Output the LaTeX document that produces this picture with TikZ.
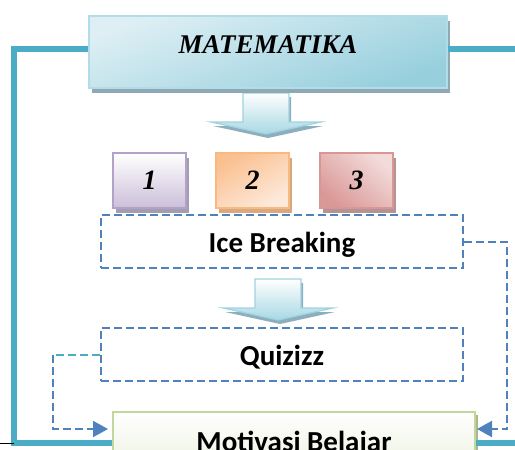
\documentclass[tikz,border=0pt]{standalone}
\usepackage{fontspec}
\setmainfont{Liberation Serif}
\newfontfamily\carlito{Carlito}
\usetikzlibrary{arrows.meta,shadows}
\definecolor{tealline}{HTML}{4BACC6}
\definecolor{dashblue}{HTML}{4F81BD}
\definecolor{matlight}{HTML}{DDEFF4}
\definecolor{matdark}{HTML}{97CFDD}
\definecolor{matborder}{HTML}{B2DCE7}
\definecolor{matshadow}{HTML}{8EA9B4}
\definecolor{purpleborder}{HTML}{B3A2C7}
\definecolor{purplefill}{HTML}{CBBFD9}
\definecolor{purpleshadow}{HTML}{A39CB2}
\definecolor{orangeborder}{HTML}{F9B97F}
\definecolor{orangefill}{HTML}{FAC090}
\definecolor{orangelight}{HTML}{FDEADB}
\definecolor{orangeshadow}{HTML}{D8A880}
\definecolor{redborder}{HTML}{D99694}
\definecolor{redfill}{HTML}{DA9896}
\definecolor{redlight}{HTML}{F2DCDB}
\definecolor{redshadow}{HTML}{B39494}
\definecolor{greenborder}{HTML}{C3D69B}
\definecolor{greenfill}{HTML}{EBF1DE}
\definecolor{greenshadow}{HTML}{A9B98E}
\definecolor{arrowfill}{HTML}{A8D8E4}
\definecolor{arrowborder}{HTML}{9FD3E0}
\definecolor{arrowshadow}{HTML}{8DAEBC}

\begin{document}
\begin{tikzpicture}[x=1pt, y=-1pt,
  flowline/.style={line width=6pt, tealline},
  dashline/.style={line width=2pt, dashblue, dash pattern=on 8pt off 4pt},
  dashtip/.style={-{Triangle[length=15pt, width=16pt]}},
  matbox/.style={draw=matborder, line width=1.2pt, top color=matlight, bottom color=matdark, shading angle=20,
    minimum width=358pt, minimum height=72pt, inner sep=0pt, text height=18pt, text depth=16pt,
    font=\fontsize{27}{30}\selectfont\bfseries\itshape,
    drop shadow={shadow xshift=3pt, shadow yshift=-5pt, fill=matshadow, opacity=1}},
  numbox/.style={line width=2pt, minimum width=73pt, minimum height=55pt, inner sep=0pt,
    font=\fontsize{28}{30}\selectfont\bfseries\itshape},
  labelbox/.style={dashline, minimum width=362pt, minimum height=53pt, inner sep=0pt,
    text height=22pt, text depth=0pt, text=black, font=\carlito\fontsize{29}{32}\selectfont\bfseries},
  motbox/.style={draw=greenborder, line width=2pt, top color=white, bottom color=greenfill,
    minimum width=362pt, minimum height=62pt, inner sep=0pt, text height=16pt, text depth=0pt,
    font=\carlito\fontsize{29}{32}\selectfont\bfseries,
    drop shadow={shadow xshift=3pt, shadow yshift=-3pt, fill=greenshadow, opacity=1}},
  blockarrow/.style={draw=arrowborder, line width=1.2pt, top color=white, bottom color=arrowfill}]
\useasboundingbox (0,0) rectangle (515,450);
\clip (0,0) rectangle (515,450);

\coordinate (lft) at (13.5,443);
\coordinate (rgt) at (516,0);
\coordinate (qx) at (53,429);
\coordinate (ix) at (507,429);

\foreach \cx/\ty in {266/93, 278/279} {
  \fill[arrowshadow, shift={(\cx+2,\ty+4)}] (-23,0) -- (23,0) -- (23,29) -- (55,29) -- (0,41) -- (-55,29) -- (-23,29) -- cycle;
  \draw[blockarrow, shift={(\cx,\ty)}] (-23,0) -- (23,0) -- (23,29) -- (55,29) -- (0,41) -- (-55,29) -- (-23,29) -- cycle;
}

\path (268,52) node[matbox] (mat) {MATEMATIKA};
\path (149.5,180.5) node[numbox, draw=purpleborder, top color=white, bottom color=purplefill,
  drop shadow={shadow xshift=3pt, shadow yshift=-5pt, fill=purpleshadow, opacity=1}] (one) {1};
\path (252.5,180.5) node[numbox, draw=orangeborder, top color=orangefill, bottom color=orangelight, shading angle=30,
  drop shadow={shadow xshift=3pt, shadow yshift=-5pt, fill=orangeshadow, opacity=1}] (two) {2};
\path (356.5,180.5) node[numbox, draw=redborder, top color=redlight, bottom color=redfill, shading angle=-40,
  drop shadow={shadow xshift=3pt, shadow yshift=-5pt, fill=redshadow, opacity=1}] (three) {3};
\path (282,241.5) node[labelbox, draw] (ice) {Ice Breaking};
\path (282,354.5) node[labelbox, draw] (quiz) {Quizizz};
\path (294,443) node[motbox] (mot) {Motivasi Belajar};

\draw[flowline] ([yshift=3pt]mat.west) -| (lft) -- (mot.west);
\draw[flowline] ([yshift=3pt]mat.east) -- ([yshift=3pt]mat.east -| rgt);
\draw[flowline] (mot.east) -- (mot.east -| rgt);
\draw[black, line width=1pt] (0,443) -- (lft);

\draw[dashline, tealline] (quiz.west) -- (quiz.west -| qx);
\draw[dashline, dashtip, shorten >=4pt] (quiz.west -| qx) -- (qx) -- ([yshift=14pt]mot.west);
\draw[dashline, dashtip, shorten >=1pt] (ice.east) -| (ix) -- ([yshift=14pt]mot.east);
\end{tikzpicture}
\end{document}
